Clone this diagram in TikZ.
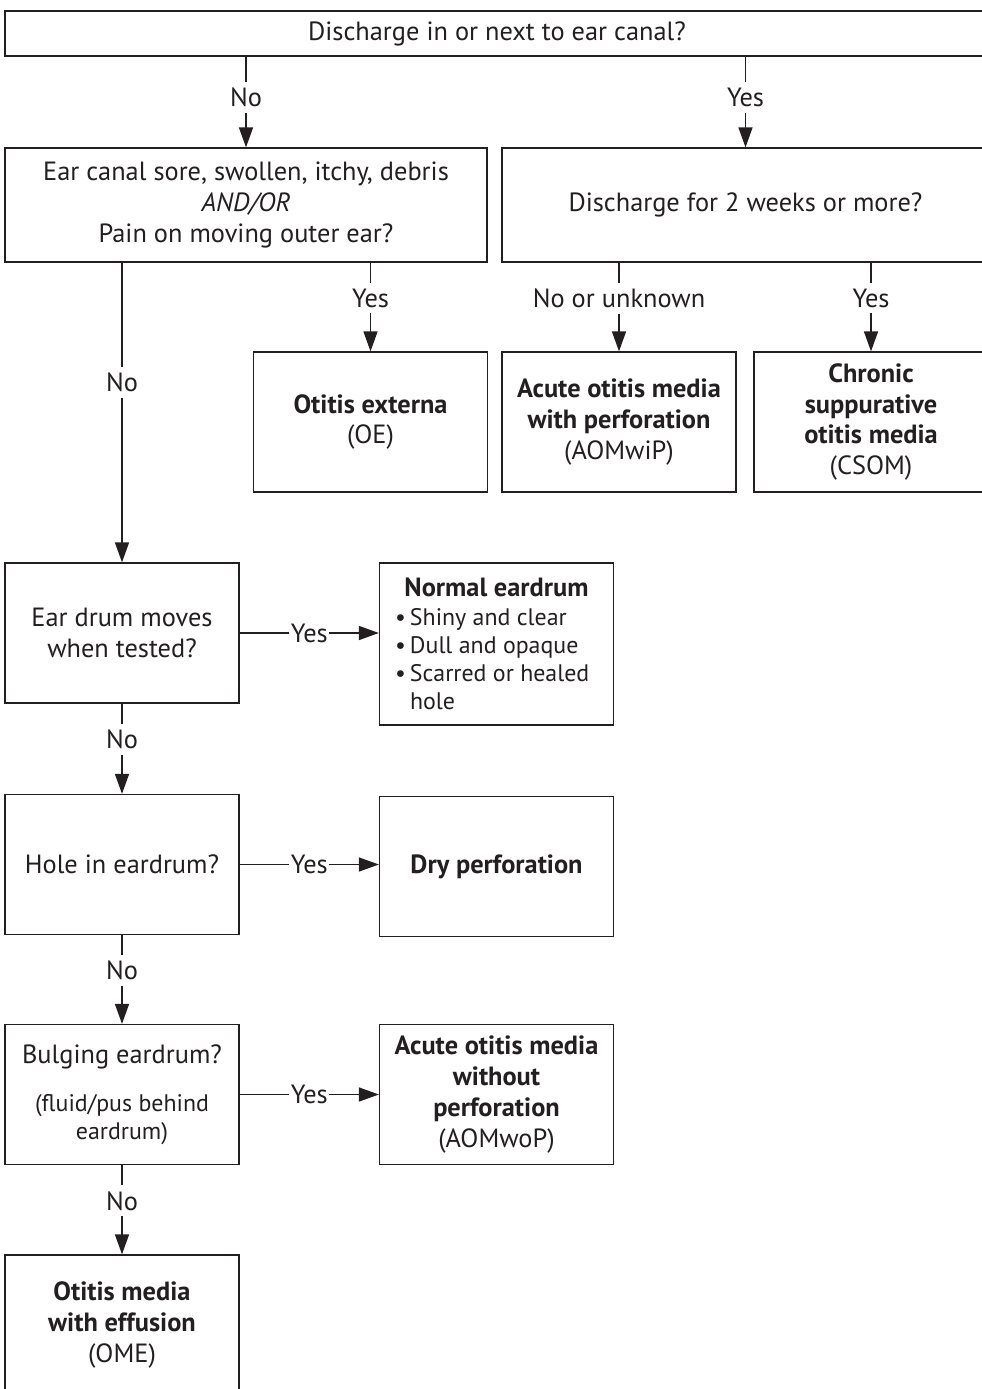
\documentclass[tikz,border=0pt]{standalone}
\usepackage{fontspec}
\setmainfont{PT Sans}
\usetikzlibrary{arrows.meta, positioning, calc}
\definecolor{ink}{HTML}{231F20}
\newcommand{\boxfont}{\fontsize{15pt}{17.6pt}\selectfont}
\newcommand{\notefont}{\fontsize{13.6pt}{16pt}\selectfont}
\newcommand{\itemline}[1]{\makebox[40.6mm][l]{\notefont #1}}
\newcommand{\bul}{\makebox[3mm][l]{\textbullet}}
\tikzset{
  qbox/.style  = {draw=ink, line width=0.7pt, fill=white, text=ink,
                  align=center, font=\boxfont, inner sep=0pt,
                  minimum width=46.8mm, minimum height=28mm},
  flow/.style  = {-{Triangle[length=4mm, width=2.8mm]}, line width=0.8pt,
                  draw=ink},
  vlab/.style  = {pos=0.4, fill=white, text=ink, font=\boxfont,
                  inner xsep=1pt},
  hlab/.style  = {midway, fill=white, text=ink, font=\boxfont,
                  inner xsep=1pt, inner ysep=1pt},
}

\begin{document}
\begin{tikzpicture}[x=0.2mm, y=-0.2mm]
    \useasboundingbox (0,0) rectangle (981,1389);

    % --- first question ---
    \node[qbox, minimum width=196.8mm, minimum height=9mm] (discharge)
      at (497,33.5) {Discharge in or next to ear canal?};

    % --- second row of questions ---
    \node[qbox, minimum width=96.4mm, minimum height=22.8mm] (canal)
      at (246,205)
      {Ear canal sore, swollen, itchy, debris\\ \textit{AND/OR}\\
       Pain on moving outer ear?};
    \node[qbox, minimum width=97.4mm, minimum height=22.8mm] (twoweeks)
      at (745.5,205) {Discharge for 2 weeks or more?};

    % --- diagnoses with discharge ---
    \node[qbox] (externa) at (370.5,422)
      {\textbf{Otitis externa}\\ (OE)};
    \node[qbox] (withperf) at (619,422)
      {\textbf{Acute otitis media}\\ \textbf{with perforation}\\ (AOMwiP)};
    \node[qbox] (csom) at (871,422)
      {\textbf{Chronic}\\ \textbf{suppurative}\\ \textbf{otitis media}\\ (CSOM)};

    % --- eardrum questions ---
    \node[qbox] (drum) at (122,633) {Ear drum moves\\ when tested?};
    \node[qbox] (hole) at (122,864.5) {Hole in eardrum?};
    \node[qbox] (bulging) at (122,1094.5)
      {Bulging eardrum?\\[10pt] {\notefont (fluid/pus behind}\\[-2pt]
       {\notefont eardrum)}};
    \node[qbox] (effusion) at (122,1325)
      {\textbf{Otitis media}\\ \textbf{with effusion}\\ (OME)};

    % --- eardrum findings ---
    \node[qbox, minimum height=32.4mm] (normal) at (496.5,644)
      {\textbf{Normal eardrum}\\[-1.6pt]
       \itemline{\bul Shiny and clear}\\[-1.6pt]
       \itemline{\bul Dull and opaque}\\[-1.6pt]
       \itemline{\bul Scarred or healed}\\[-1.6pt]
       \itemline{\hspace*{3mm}hole}};
    \node[qbox] (dry) at (496.5,866.5) {\textbf{Dry perforation}};
    \node[qbox] (noperf) at (496.5,1094.5)
      {\textbf{Acute otitis media}\\ \textbf{without}\\
       \textbf{perforation}\\ (AOMwoP)};

    % --- connectors ---
    \draw[flow] (discharge.south -| canal.north)
      -- node[vlab, pos=0.45] {No} (canal.north);
    \draw[flow] (discharge.south -| twoweeks.north)
      -- node[vlab, pos=0.45] {Yes} (twoweeks.north);
    \draw[flow] (canal.south -| externa.north)
      -- node[vlab] {Yes} (externa.north);
    \draw[flow] (canal.south -| drum.north) -- node[vlab] {No} (drum.north);
    \draw[flow] (twoweeks.south -| withperf.north)
      -- node[vlab] {No or unknown} (withperf.north);
    \draw[flow] (twoweeks.south -| csom.north)
      -- node[vlab] {Yes} (csom.north);

    \draw[flow] (drum.east) -- node[hlab] {Yes} (drum.east -| normal.west);
    \draw[flow] (drum) -- node[vlab] {No} (hole);
    \draw[flow] (hole.east) -- node[hlab] {Yes} (hole.east -| dry.west);
    \draw[flow] (hole) -- node[vlab] {No} (bulging);
    \draw[flow] (bulging.east) -- node[hlab] {Yes} (bulging.east -| noperf.west);
    \draw[flow] (bulging) -- node[vlab] {No} (effusion);
\end{tikzpicture}
\end{document}
